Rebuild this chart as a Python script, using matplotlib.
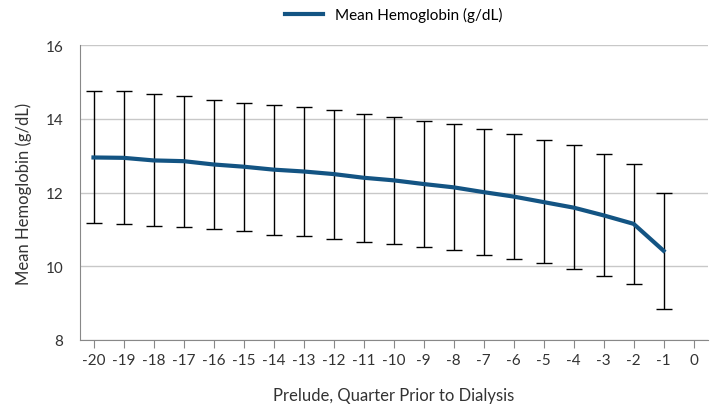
import numpy as np
import matplotlib.pyplot as plt

plt.rcParams['font.family'] = ['Lato', 'DejaVu Sans']
plt.rcParams['axes.unicode_minus'] = False

quarters = list(range(-20, 0))
mean_hgb = [12.95, 12.94, 12.87, 12.85, 12.76, 12.70, 12.62, 12.57, 12.50, 12.40,
            12.33, 12.23, 12.14, 12.01, 11.89, 11.74, 11.59, 11.38, 11.15, 10.42]
upper = [14.75, 14.74, 14.67, 14.63, 14.51, 14.44, 14.37, 14.31, 14.24, 14.12,
         14.05, 13.94, 13.86, 13.72, 13.60, 13.42, 13.28, 13.04, 12.78, 12.00]
lower = [11.18, 11.15, 11.08, 11.07, 11.00, 10.95, 10.86, 10.81, 10.75, 10.66,
         10.61, 10.51, 10.43, 10.30, 10.19, 10.08, 9.93, 9.74, 9.52, 8.84]

mean = np.array(mean_hgb)
yerr = [mean - np.array(lower), np.array(upper) - mean]

fig = plt.figure(figsize=(7.14, 4.14), dpi=100)
ax = fig.add_axes([80/714, 1 - 341/414, 628/714, 295/414])

ax.errorbar(quarters, mean, yerr=yerr, fmt='none', ecolor='black', elinewidth=1,
            capsize=6, capthick=1, zorder=2)
ax.plot(quarters, mean, color='#135483', lw=3, label='Mean Hemoglobin (g/dL)', zorder=3)

ax.set_xlim(-20.45, 0.48)
ax.set_ylim(8, 16)
ax.set_xticks(range(-20, 1))
ax.set_yticks([8, 10, 12, 14, 16])
ax.grid(axis='y', color='#c8c8c8', lw=1)
ax.set_axisbelow(True)
for s in ['top', 'right']:
    ax.spines[s].set_visible(False)
ax.spines['left'].set_color('#888888')
ax.spines['bottom'].set_color('#888888')
ax.tick_params(axis='y', length=0, labelsize=11, colors='#333333', pad=12)
ax.tick_params(axis='x', length=6, color='#888888', labelsize=11, colors='#333333')
ax.set_xlabel('Prelude, Quarter Prior to Dialysis', fontsize=12, color='#333333', labelpad=14)
ax.set_ylabel('Mean Hemoglobin (g/dL)', fontsize=12, color='#333333', labelpad=10)
ax.legend(loc='lower center', bbox_to_anchor=(0.5, 1.03), frameon=False, fontsize=11,
          handlelength=2.5)

fig.savefig('out.png', dpi=100)
